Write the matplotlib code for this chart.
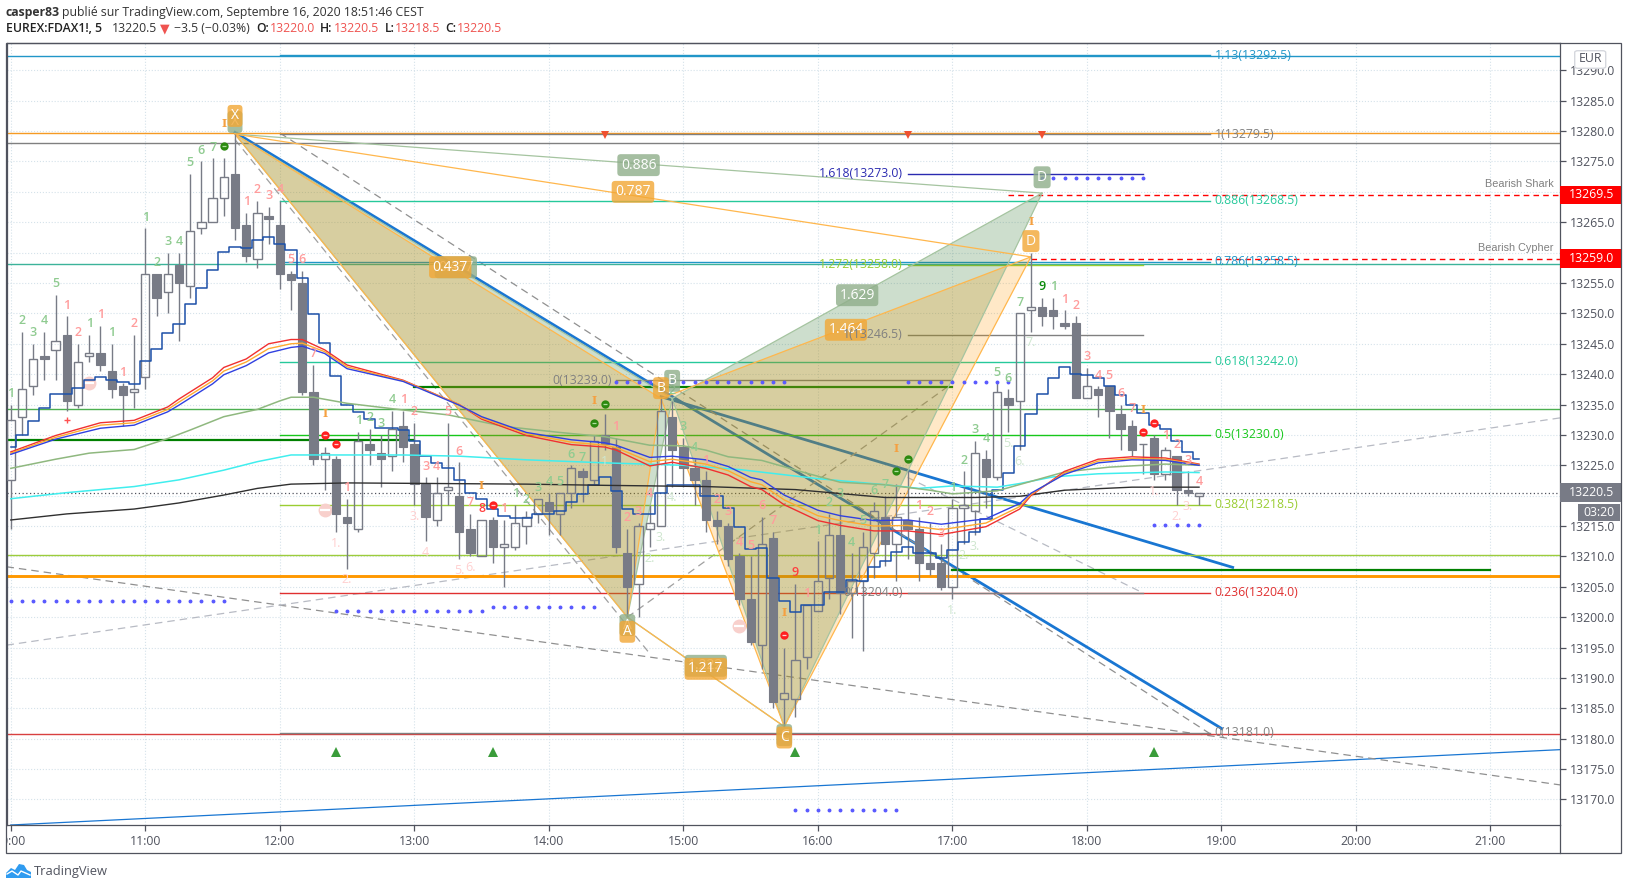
import matplotlib
matplotlib.use('Agg')
import matplotlib.pyplot as plt
import numpy as np
from matplotlib.patches import Polygon, Rectangle, FancyBboxPatch
from matplotlib.lines import Line2D
from matplotlib.transforms import Bbox

plt.rcParams['font.family'] = ['Open Sans', 'DejaVu Sans']

# 5 minute bars, bar 0 = 10:00
open_ = [13222.5, 13233, 13238, 13243, 13244, 13246.5, 13235, 13243, 13243.5, 13240.5,
         13238, 13237, 13239.5, 13256.5, 13253.5, 13258, 13254.5, 13264, 13265, 13269,
         13273, 13264.5, 13259, 13266, 13264.5, 13256.5, 13255, 13237, 13226, 13226,
         13216.5, 13214.5, 13228.5, 13227, 13226.5, 13231.5, 13228.5, 13222, 13216, 13221,
         13220, 13214.5, 13210, 13216, 13211.5, 13211.5, 13215, 13217, 13219, 13217,
         13220.5, 13224, 13222.5, 13230, 13228, 13210.5, 13205.5, 13214.5, 13215, 13233,
         13228, 13224.5, 13222.5, 13216, 13215, 13210, 13203, 13195.5, 13213, 13186.5,
         13186.5, 13193.5, 13201, 13206.5, 13213.5, 13204, 13206, 13210.5, 13216.5, 13212,
         13216, 13214.5, 13209, 13209, 13205, 13218, 13217.5, 13226, 13223, 13236,
         13235.5, 13250.5, 13251, 13250.5, 13248.5, 13248.5, 13236, 13237.5, 13238, 13233.5,
         13231.5, 13228.5, 13229.5, 13223.5, 13226.5, 13221, 13220]
high = [13235, 13247, 13245, 13247, 13253, 13249.5, 13245, 13246.5, 13248, 13245,
        13238.5, 13246.5, 13264, 13256.5, 13260, 13260, 13273, 13275, 13275.5, 13275.5,
        13279.5, 13266.5, 13268.5, 13267.5, 13268.5, 13257, 13257, 13241.5, 13228, 13226.5,
        13219.5, 13230.5, 13231, 13230, 13234, 13234, 13232, 13223, 13223, 13232,
        13225.5, 13217, 13216, 13216.5, 13216, 13218.5, 13217.5, 13219.5, 13220.5, 13220.5,
        13225, 13224.5, 13230, 13233.5, 13229.5, 13214.5, 13215.5, 13218.5, 13236, 13235.5,
        13229.5, 13226, 13224, 13217.5, 13215.5, 13210.5, 13210, 13216.5, 13214, 13195,
        13205.5, 13202, 13212.5, 13217, 13218.5, 13210.5, 13214, 13219, 13220, 13222,
        13224, 13216.5, 13215.5, 13212, 13219.5, 13224, 13229, 13227.5, 13238.5, 13237.5,
        13250, 13260, 13252.5, 13252.5, 13250.5, 13249.5, 13241, 13238, 13238, 13235,
        13232.5, 13228.5, 13230, 13228, 13226.5, 13224, 13220.5]
low = [13214.5, 13230, 13236.5, 13239, 13239, 13234, 13234.5, 13242, 13240.5, 13236,
       13231.5, 13234.5, 13237.5, 13249.5, 13250, 13245.5, 13252.5, 13263, 13265, 13266,
       13262, 13258.5, 13257.5, 13261.5, 13254, 13250.5, 13236.5, 13225, 13221, 13214,
       13208, 13214, 13225, 13221.5, 13224, 13225.5, 13218.5, 13212.5, 13215, 13218.5,
       13209.5, 13210, 13210, 13209, 13205, 13211, 13212, 13215.5, 13213.5, 13213.5,
       13218, 13219, 13222, 13227.5, 13210.5, 13200, 13200, 13211.5, 13215, 13221.5,
       13221.5, 13218.5, 13214, 13212, 13208.5, 13202, 13195.5, 13191.5, 13185, 13182,
       13183.5, 13191.5, 13201, 13203, 13200.5, 13196.5, 13194.5, 13206.5, 13208.5, 13206,
       13209.5, 13206, 13207, 13204.5, 13203, 13212, 13213.5, 13218, 13222.5, 13230.5,
       13227.5, 13247, 13248, 13247.5, 13247.5, 13236, 13236, 13233, 13229.5, 13227.5,
       13226.5, 13223.5, 13222.5, 13222.5, 13218.5, 13220, 13218.5]
close = [13232.5, 13237.5, 13242.5, 13242.5, 13245.5, 13235.5, 13242, 13243.5, 13241.5, 13237.5,
         13236.5, 13237.5, 13256.5, 13252.5, 13256.5, 13255, 13263.5, 13265, 13269, 13272.5,
         13264, 13259.5, 13266.5, 13265.5, 13256.5, 13255.5, 13237, 13226, 13227, 13217,
         13215.5, 13229, 13227.5, 13226, 13231, 13228, 13222, 13216.5, 13220.5, 13221.5,
         13214, 13210.5, 13216, 13211.5, 13212, 13215.5, 13216.5, 13219.5, 13217.5, 13220.5,
         13224.5, 13223, 13229, 13228.5, 13211.5, 13205, 13215, 13215.5, 13234, 13227.5,
         13224.5, 13222.5, 13216, 13215, 13209.5, 13203, 13196, 13212, 13186, 13187.5,
         13193, 13202, 13206, 13213.5, 13204, 13206, 13211.5, 13217.5, 13212, 13216.5,
         13214.5, 13209, 13208, 13205, 13218, 13218.5, 13227, 13223, 13237, 13235,
         13250, 13251, 13249.5, 13249.5, 13248, 13236, 13238, 13236.5, 13234, 13231,
         13227.5, 13228.5, 13223.5, 13227.5, 13221, 13220.5, 13220.5]

# stepped channel line, one value per bar
step_line = [13228, 13230, 13232.3, 13234.5, 13236.7, 13236.7, 13237.7, 13239, 13239.5, 13239,
             13238.7, 13238.3, 13242.1, 13244.2, 13246.7, 13248.3, 13251.5, 13254.1, 13257.2, 13260.1,
             13261, 13260.7, 13262, 13262.6, 13261.5, 13260.4, 13255.8, 13249.9, 13245.2, 13239.7,
             13234.9, 13233.7, 13232.7, 13231.2, 13231.2, 13230.8, 13229, 13226.6, 13225.4, 13224.6,
             13222.6, 13220.4, 13219.5, 13217.8, 13216.6, 13216.4, 13216.4, 13217, 13217, 13217.4,
             13219, 13220.2, 13221.8, 13223, 13220.8, 13217.8, 13217, 13217, 13220.4, 13221.8,
             13221.8, 13221.8, 13220, 13220, 13217.9, 13214.9, 13211.2, 13211.4, 13206.4, 13202.7,
             13200.8, 13202, 13202, 13204.2, 13204.2, 13206.1, 13206, 13208.3, 13209.3, 13210.7,
             13211.6, 13210.6, 13210.5, 13209.8, 13211.1, 13212.4, 13214, 13216.2, 13221, 13223.8,
             13228.1, 13233.5, 13236.7, 13239.4, 13241.1, 13240.1, 13239.8, 13239.3, 13238, 13236.6,
             13235, 13233.6, 13231.7, 13230.9, 13229, 13227.2, 13226]

ribbon_bars = [0, 4, 8, 11, 14, 15, 18, 19, 21, 23, 25, 26, 28, 30, 35, 40, 42, 46, 50, 53, 54,
               57, 59, 62, 64, 66, 67, 69, 72, 74, 77, 80, 83, 87, 90, 91, 94, 97, 100, 103, 106]
ema_blue = [13226.8, 13229.3, 13231.1, 13231.6, 13233.8, 13234.9, 13238.4, 13239.9, 13241.4, 13243.5,
            13244.4, 13244.6, 13243.4, 13240.9, 13238.8, 13234.9, 13233, 13230.4, 13229.2, 13228.7,
            13228.3, 13226.3, 13226.5, 13225.9, 13224.8, 13223, 13222.6, 13220.1, 13217.6, 13216.7,
            13215.9, 13216, 13215.3, 13216.2, 13218.7, 13220.4, 13223.5, 13225.4, 13225.9, 13225.8, 13225]
ema_orange = [13227, 13229.6, 13231.6, 13232, 13234.2, 13235.4, 13238.9, 13240.5, 13242, 13244.2,
              13245, 13245.1, 13243.7, 13241.2, 13238.9, 13235, 13232.8, 13230.2, 13228.8, 13228.3,
              13227.9, 13225.6, 13226, 13225.2, 13224.1, 13222.3, 13221.8, 13219.3, 13216.7, 13215.9,
              13215, 13215.1, 13214.4, 13215.5, 13218.2, 13220.2, 13223.7, 13225.7, 13226.1, 13226, 13225.1]
ema_red = [13227.2, 13229.9, 13232, 13232.4, 13234.6, 13235.9, 13239.4, 13241.1, 13242.5, 13245,
           13245.7, 13245.7, 13244, 13241.5, 13239, 13235, 13232.6, 13229.9, 13228.4, 13228,
           13227.5, 13224.9, 13225.5, 13224.5, 13223.4, 13221.5, 13221, 13218.5, 13215.9, 13215.1,
           13214.2, 13214.2, 13213.6, 13214.9, 13217.8, 13220, 13224, 13226, 13226.4, 13226.2, 13225.2]

green_bars = [0, 4, 7, 11, 14, 16, 19, 22, 24, 25, 27, 30, 35, 39, 44, 49, 53, 57, 60, 62, 64, 67,
              71, 74, 78, 82, 84, 88, 94, 98, 103, 106]
ema_green = [13224.5, 13226, 13227, 13227.6, 13229.4, 13230.8, 13233, 13234.2, 13235.6, 13236.2, 13236.2,
             13235.2, 13234.1, 13233.3, 13231.4, 13230.4, 13229.7, 13228.3, 13228.2, 13227.5, 13226.4, 13225.8,
             13223.7, 13222.2, 13221.8, 13220.9, 13220.3, 13220.8, 13223.9, 13224.7, 13225.2, 13225]

cyan_bars = [0, 5, 11, 15, 19, 22, 25, 28, 35, 40, 46, 53, 60, 65, 72, 78, 81, 84, 88, 90, 93, 97, 103, 106]
ema_cyan = [13219.5, 13220.5, 13221.5, 13222.6, 13224.2, 13225.6, 13226.7, 13226.7, 13226.7, 13226.5, 13225.9,
            13225.4, 13225, 13224.3, 13222.8, 13221.8, 13221.2, 13221.6, 13221.4, 13222, 13223.1, 13223.6, 13223.9, 13223.8]

black_bars = [0, 5, 11, 15, 19, 22, 25, 30, 38, 46, 53, 62, 70, 78, 81, 86, 90, 94, 100, 106]
ema_black = [13216, 13217, 13217.8, 13218.8, 13220.1, 13221.2, 13221.9, 13222.1, 13222, 13221.9, 13221.7,
             13221.5, 13221, 13219.7, 13219.7, 13219.7, 13219.9, 13220.9, 13221.4, 13221.4]

# sequence counters above each bar: positive green, negative red, 0 none
counts = [1, 2, 3, 4, 5, -1, -2, 1, -1, 1, -1, -2, 1, 2, 3, 4, 5, 6, 7, 0,
          0, -1, -2, -3, -4, -5, -6, -7, 0, 0, -1, 1, 2, 3, 4, -1, -2, -3, -4, -5,
          -6, -7, -8, 0, -1, 1, 2, 3, 4, 5, 6, 7, 0, 0, -1, -2, -3, -4, 0, 2,
          3, 4, -1, -2, -3, -4, -5, -6, -7, 0, -9, -1, 1, 2, 3, 4, 5, 6, 7, 0,
          0, -1, -2, -3, 1, 2, 3, 4, 5, 6, 7, 0, 9, 1, -1, -2, -3, -4, -5, -6,
          -7, 0, 0, -1, -2, -3, -4]

faint_red_bars = [29, 30, 36, 37, 40, 41, 102, 104, 105]
faint_red_text = ['1.', '2.', '3.', '4', '5.', '6.', '1.', '2.', '3.']
faint_green_bars = [53, 57, 58, 59, 84, 85, 86, 89, 90, 91]
faint_green_text = ['1', '2.', '3.', '4.', '1.', '2.', '3.', '5.', '6.', '7.']

setup_bars = [19, 28, 42, 52, 69, 79, 91, 101]
setup_price = [13281.3, 13233.6, 13221.6, 13235.6, 13200.8, 13227.7, 13265.2, 13234.2]
red_dot_bars = [28, 29, 43, 69, 101, 102]
red_dot_price = [13230, 13228.5, 13218.4, 13197, 13230.4, 13232]
green_dot_bars = [19, 52, 53, 79, 80]
green_dot_price = [13277.6, 13232, 13235.1, 13224, 13226]
pink_bars = [7, 28, 65]
pink_price = [13238.5, 13217.6, 13198.6]
up_tri_bars = [29, 43, 70, 102]
down_tri_bars = [53, 80, 92]

# dotted runs: first bar, last bar, price
dot_runs = [(0, 19, 13202.6), (29, 42, 13201.1), (43, 52, 13201.6), (54, 69, 13238.7),
            (80, 89, 13238.7), (92, 101, 13272.2), (102, 106, 13215.1), (70, 79, 13168.2)]

# full width levels
levels = [13292.3, 13279.7, 13278.1, 13258.2, 13234.2, 13210.3, 13206.8, 13180.7]
level_cols = ['#2196c8', '#f59a23', '#808080', '#3cb39a', '#4caf50', '#9ccc3c', '#ff9800', '#d84040']
level_lw = [1, 1, 1, 1, 1, 1, 2.1, 1]

fib_labels = ['1.13', '1', '0.886', '0.786', '0.618', '0.5', '0.382', '0.236', '0']
fib_prices = [13292.5, 13279.5, 13268.5, 13258.5, 13242.0, 13230.0, 13218.5, 13204.0, 13181.0]
fib_cols = ['#2196c8', '#808080', '#26c99b', '#2196c8', '#26c99b', '#17c71b', '#9acd32', '#e03030', '#808080']

fib2_labels = ['1.618', '1.272', '1', '0']
fib2_prices = [13273.0, 13258.0, 13246.5, 13204.0]
fib2_cols = ['#2a2ab0', '#9acd32', '#808080', '#808080']

yticks = list(range(13170, 13295, 5))
xtick_labels = ['10:00', '11:00', '12:00', '13:00', '14:00', '15:00', '16:00',
                '17:00', '18:00', '19:00', '20:00', '21:00']

W, H = 1627, 890
fig = plt.figure(figsize=(W / 100, H / 100), dpi=100, facecolor='white')
ax = fig.add_axes([6.5 / W, 1 - 825 / H, (1560 - 6.5) / W, (825 - 43) / H])
ax.set_xlim(-0.384, 138.2)
ax.set_ylim(13165.8, 13294.5)

AXC = '#50535e'
CANDLE = '#787b86'

def fx(x):
    return x / W

def fy(y):
    return 1 - y / H

for s in ax.spines.values():
    s.set_color(AXC)
    s.set_linewidth(0.9)

ax.yaxis.tick_right()
ax.set_yticks(yticks)
ax.set_yticklabels([f'{v:.1f}' for v in yticks])
ax.set_xticks(np.arange(0, 12) * 12)
ax.set_xticklabels(xtick_labels)
ax.tick_params(axis='both', colors=AXC, labelsize=8.8, length=4, width=0.9, pad=3)
ax.grid(True, color='#d5e2ea', linestyle=':', linewidth=0.8)
ax.set_axisbelow(True)

# trend lines sit under the pattern fill
ax.plot([20, 108], [13279.8, 13181.7], color='#1976d2', lw=2, zorder=1.5)
ax.plot([58, 109], [13236.3, 13208.2], color='#1976d2', lw=2, zorder=1.5)
ax.plot([0, 138.2], [13165.8, 13178.2], color='#1976d2', lw=0.9, zorder=1.5)

dash = (0, (6, 4))
ax.plot([24, 107], [13279.7, 13180.8], color='#909090', lw=0.9, ls=dash, zorder=1.5)
ax.plot([20, 57], [13278.6, 13194], color='#a0a0a0', lw=0.9, ls=dash, zorder=1.5)
ax.plot([-0.384, 138.2], [13208.3, 13172.4], color='#909090', lw=0.9, ls=dash, zorder=1.5)
ax.plot([-0.384, 138.2], [13195.4, 13232.8], color='#b8bbc4', lw=0.9, ls=dash, zorder=1.5)
ax.plot([55, 84], [13200, 13238.5], color='#a0a0a0', lw=0.9, ls=dash, zorder=1.5)
ax.plot([80, 101], [13223, 13204], color='#b8bbc4', lw=0.9, ls=dash, zorder=1.5)

for p, c, lw in zip(levels, level_cols, level_lw):
    ax.axhline(p, color=c, lw=lw, zorder=1.6)
ax.plot([-0.384, 36], [13229.2, 13229.2], color='#008000', lw=1.6, zorder=1.7)
ax.plot([36, 84], [13237.9, 13237.9], color='#008000', lw=1.6, zorder=1.7)
ax.plot([84, 132], [13207.7, 13207.7], color='#008000', lw=1.6, zorder=1.7)

ax.plot([89, 138.2], [13269.5, 13269.5], color='#ff0000', lw=1, ls=(0, (4, 3)), zorder=1.7)
ax.plot([91, 138.2], [13259, 13259], color='#ff0000', lw=1, ls=(0, (4, 3)), zorder=1.7)
ax.axhline(13220.5, color=AXC, lw=0.9, ls=(0, (1, 2)), zorder=1.7)

# fib retracement
for lab, p, c in zip(fib_labels, fib_prices, fib_cols):
    ax.plot([24, 107], [p, p], color=c, lw=1, zorder=1.8)
    ax.text(107.4, p, f'{lab}({p:.1f})', color=c, fontsize=8.8, va='center', ha='left', zorder=7)
for lab, p, c in zip(fib2_labels, fib2_prices, fib2_cols):
    ax.plot([80, 101], [p, p], color=c, lw=1, zorder=1.8)
    ax.text(79.6, p, f'{lab}({p:.1f})', color=c, fontsize=8.8, va='center', ha='right', zorder=7)
ax.plot([54, 84], [13239, 13239], color='#808080', lw=1, zorder=1.8)
ax.text(53.6, 13239, '0(13239.0)', color='#808080', fontsize=8.8, va='center', ha='right', zorder=7)

# harmonic patterns
ORANGE = '#ff9800'
GREEN = '#3a7d3a'
ax.add_patch(Polygon([(20, 13279.5), (55, 13200), (59, 13236)], fc=GREEN, alpha=0.25, lw=0, zorder=2))
ax.add_patch(Polygon([(59, 13236), (69, 13182), (92, 13269.8)], fc=GREEN, alpha=0.25, lw=0, zorder=2))
ax.add_patch(Polygon([(20, 13279.5), (55, 13200), (58, 13236)], fc=ORANGE, alpha=0.22, lw=0, zorder=2.1))
ax.add_patch(Polygon([(58, 13236), (69, 13182), (91, 13259.3)], fc=ORANGE, alpha=0.22, lw=0, zorder=2.1))
ax.plot([20, 55, 59, 69, 92, 59, 20, 92], [13279.5, 13200, 13236, 13182, 13269.8, 13236, 13279.5, 13269.8],
        color='#a5c4a0', lw=0.9, zorder=2.2)
ax.plot([55, 69], [13200, 13182], color='#a5c4a0', lw=0.9, zorder=2.2)
ax.plot([20, 55, 58, 69, 91, 58, 20, 91], [13279.5, 13200, 13236, 13182, 13259.3, 13236, 13279.5, 13259.3],
        color='#ffb74d', lw=0.9, zorder=2.3)
ax.plot([55, 69], [13200, 13182], color='#ffb74d', lw=0.9, zorder=2.3)

# candles
bars_x = np.arange(len(open_))
for i in bars_x:
    o, h, l, c = open_[i], high[i], low[i], close[i]
    top, bot = max(o, c), min(o, c)
    ax.vlines(i, top, h, color=CANDLE, lw=1, zorder=3)
    ax.vlines(i, l, bot, color=CANDLE, lw=1, zorder=3)
    if c < o:
        ax.bar(i, top - bot, bottom=bot, width=0.74, color=CANDLE, edgecolor=CANDLE, lw=0.8, zorder=3)
    else:
        ax.bar(i, top - bot, bottom=bot, width=0.74, facecolor='none', edgecolor=CANDLE, lw=1, zorder=3)

# indicator lines
ax.plot(bars_x, step_line, drawstyle='steps-mid', color='#1c50a8', lw=1.1, zorder=4)
ax.plot(black_bars, ema_black, color='#303030', lw=1, zorder=4)
ax.plot(cyan_bars, ema_cyan, color='#40eeee', lw=1.1, zorder=4)
ax.plot(green_bars, ema_green, color='#8fb87f', lw=1.1, zorder=4)
ax.plot(ribbon_bars, ema_red, color='#f03030', lw=1, zorder=4.1)
ax.plot(ribbon_bars, ema_orange, color='#ffaa30', lw=1, zorder=4.1)
ax.plot(ribbon_bars, ema_blue, color='#3040e0', lw=1, zorder=4.1)

# dotted runs
for a, b, p in dot_runs:
    ax.plot(np.arange(a, b + 1), [p] * (b - a + 1), ls='none', marker='o', ms=1.8,
            color='#5a5aff', zorder=4.5)

# counters
for i, n in enumerate(counts):
    if n == 0:
        continue
    col = '#8fcb90' if n > 0 else '#ff9c9c'
    if n == 9:
        col = '#0a8a0a'
    if n in (-8, -9):
        col = '#ff4040'
    ax.text(i, high[i] + 1.85, str(abs(n)), color=col, fontsize=9, ha='center', va='center',
            fontweight='semibold', zorder=5)
for b, t in zip(faint_red_bars, faint_red_text):
    ax.text(b, low[b] - 1.85, t, color='#ffd0d0', fontsize=9, ha='center', va='center', zorder=5)
for b, t in zip(faint_green_bars, faint_green_text):
    ax.text(b, low[b] - 1.85, t, color='#cfe6cf', fontsize=9, ha='center', va='center', zorder=5)

for b, p in zip(setup_bars, setup_price):
    ax.text(b, p, 'I', color='#f5a040', fontsize=8, family='DejaVu Serif', fontweight='bold',
            ha='center', va='center', zorder=5)
for b, p in zip(red_dot_bars, red_dot_price):
    ax.plot(b, p, 'o', ms=6, color='#ff2020', mew=0, zorder=5)
    ax.plot(b, p, '_', ms=3.5, color='#ffd0d0', mew=0.9, zorder=5.1)
for b, p in zip(green_dot_bars, green_dot_price):
    ax.plot(b, p, 'o', ms=6, color='#2c8a10', mew=0, zorder=5)
    ax.plot(b, p, '_', ms=3.5, color='#b0e0a0', mew=0.9, zorder=5.1)
for b, p in zip(pink_bars, pink_price):
    ax.plot(b, p, 'o', ms=10, color='#f8d0cc', mew=0, zorder=2.5)
    ax.plot(b, p, '_', ms=7, color='white', mew=1.6, zorder=2.6)
ax.plot(5, 13232.4, '+', ms=4, color='#ff5050', mew=1, zorder=5)
ax.plot(up_tri_bars, [13177.8] * len(up_tri_bars), '^', ms=6.5, color='#3a9c3a', mew=0, zorder=5)
ax.plot(down_tri_bars, [13279.4] * len(down_tri_bars), 'v', ms=5.5, color='#f05030', mew=0, zorder=5)

# pattern tags
def tag(x, y, txt, fc, a=0.8, fs=10, z=6):
    ax.text(x, y, txt, color='white', fontsize=fs, ha='center', va='center', zorder=z,
            bbox=dict(boxstyle='round,pad=0.25,rounding_size=0.25', fc=fc, ec='none', alpha=a))

GT = '#8fae8a'
OT = '#f2a735'
tag(20, 13281.5, 'X', GT, z=6)
tag(55, 13198.7, 'A', GT, z=6)
tag(59, 13238.9, 'B', GT, z=6)
tag(69, 13180.6, 'C', GT, z=6)
tag(92, 13272.4, 'D', GT, z=6)
tag(39.7, 13257.6, '0.437', GT, z=6)
tag(56, 13274.4, '0.886', GT, z=6)
tag(75.5, 13253, '1.629', GT, z=6)
tag(62, 13192, '1.222', GT, z=6)
tag(20, 13282.5, 'X', OT, z=6.2)
tag(55, 13197.6, 'A', OT, z=6.2)
tag(58, 13237.7, 'B', OT, z=6.2)
tag(69, 13180.2, 'C', OT, z=6.2)
tag(91, 13261.9, 'D', OT, z=6.2)
tag(39.2, 13257.6, '0.437', OT, z=6.2)
tag(55.5, 13270, '0.787', OT, z=6.2)
tag(74.5, 13247.3, '1.464', OT, z=6.2)
tag(62, 13191.5, '1.217', OT, z=6.2)

# first time label is cut by the frame
labs = ax.get_xticklabels()
labs[0].set_clip_on(True)
labs[0].set_clip_box(Bbox.from_extents(7, 0, W, H))

# price tags on the right scale
def price_tag(p, txt, col):
    tr = ax.get_yaxis_transform()
    wid = (1620.7 - 1560) / (1560 - 6.5)
    ax.add_patch(Rectangle((1, p - 1.52), wid, 3.04, transform=tr, fc=col, ec='none', clip_on=False, zorder=8))
    ax.text(1 + 9 / (1560 - 6.5), p, txt, transform=tr, color='white', fontsize=8.8, va='center', ha='left',
            clip_on=False, zorder=9)

price_tag(13269.5, '13269.5', '#ff0000')
price_tag(13259.0, '13259.0', '#ff0000')
price_tag(13220.5, '13220.5', CANDLE)

fig.add_artist(Rectangle((fx(1577.7), fy(520.7)), 42.3 / W, 16.4 / H, transform=fig.transFigure, fc=CANDLE, ec='none', zorder=8))
fig.text(fx(1599), fy(512.5), '03:20', color='white', fontsize=8.8, ha='center', va='center', zorder=9)

fig.add_artist(FancyBboxPatch((fx(1574.7), fy(68.3)), 31 / W, 17.6 / H, transform=fig.transFigure,
                              boxstyle='round,pad=0,rounding_size=0.002', fc='white', ec='#d6d8de', lw=1, zorder=8))
fig.text(fx(1590), fy(59), 'EUR', color=AXC, fontsize=8.8, ha='center', va='center', zorder=9)

fig.text(fx(1554), fy(184), 'Bearish Shark', color='#808080', fontsize=7.8, family='Liberation Sans', ha='right', va='center', zorder=9)
fig.text(fx(1553), fy(248), 'Bearish Cypher', color='#808080', fontsize=7.8, family='Liberation Sans', ha='right', va='center', zorder=9)

# outer frame and scale corner
fig.add_artist(Rectangle((fx(6), fy(853)), (1620.7 - 6) / W, (853 - 43) / H, transform=fig.transFigure,
                         fill=False, ec=AXC, lw=0.9, zorder=7))
fig.add_artist(Line2D([fx(1560), fx(1560)], [fy(825), fy(853)], transform=fig.transFigure, color=AXC, lw=0.9))

# header
fig.text(fx(6), fy(12.5), 'casper83', color='#333333', fontsize=8.8, fontweight='bold', va='center')
fig.text(fx(62), fy(12.5), 'publié sur TradingView.com, Septembre 16, 2020 18:51:46 CEST', color='#333333',
         fontsize=8.8, va='center')
fig.text(fx(6.4), fy(29), 'EUREX:FDAX1!, 5', color='#222222', fontsize=8.8, fontweight='semibold', va='center')
fig.text(fx(111.4), fy(29), '13220.5', color='#333333', fontsize=8.8, va='center')
fig.text(fx(165), fy(29), '▼', color='#ef5350', fontsize=9, ha='center', va='center', family='DejaVu Sans')
fig.text(fx(174), fy(29), '−3.5 (−0.03%)', color='#333333', fontsize=8.8, va='center')
for lx, lt, vx, vt in [(256.4, 'O:', 270, '13220.0'), (320, 'H:', 334, '13220.5'),
                       (384.6, 'L:', 395, '13218.5'), (445, 'C:', 457, '13220.5')]:
    fig.text(fx(lx), fy(29), lt, color='#222222', fontsize=8.8, fontweight='semibold', va='center')
    fig.text(fx(vx), fy(29), vt, color='#ef5350', fontsize=8.8, va='center')

# logo
cloud = [(6, 878), (6, 873), (11, 868), (15, 870), (19, 864), (24, 865), (27, 870), (31, 872), (31, 878)]
fig.add_artist(Polygon([(fx(a), fy(b)) for a, b in cloud], closed=True, transform=fig.transFigure, fc='#2f9bf0', ec='none'))
fig.add_artist(Line2D([fx(7), fx(12), fx(18), fx(21), fx(30)], [fy(874), fy(871), fy(875), fy(871), fy(875)],
                      transform=fig.transFigure, color='white', lw=1))
fig.text(fx(34), fy(871.5), 'TradingView', color=AXC, fontsize=9.3, va='center')

fig.savefig('out.png', dpi=100)
